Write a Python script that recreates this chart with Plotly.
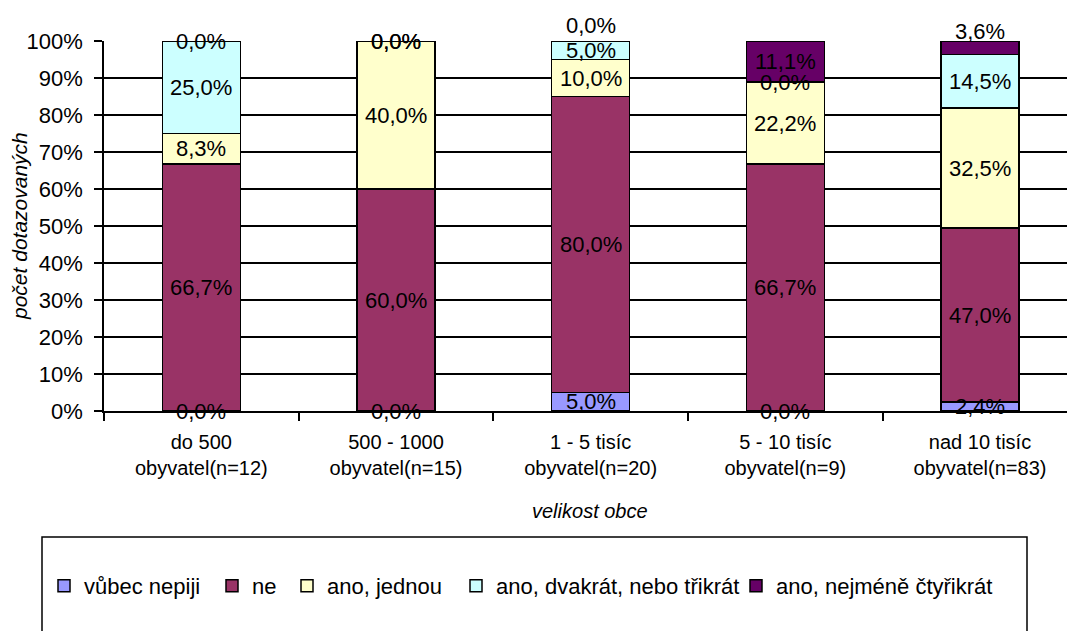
import plotly.graph_objects as go

# Categories (municipality size) and response shares in percent
categories = [
    "do 500<br>obyvatel(n=12)",
    "500 - 1000<br>obyvatel(n=15)",
    "1 - 5 tisíc<br>obyvatel(n=20)",
    "5 - 10 tisíc<br>obyvatel(n=9)",
    "nad 10 tisíc<br>obyvatel(n=83)",
]
series_names = [
    "vůbec nepiji",
    "ne",
    "ano, jednou",
    "ano, dvakrát, nebo třikrát",
    "ano, nejméně čtyřikrát",
]
vubec_nepiji = [0.0, 0.0, 5.0, 0.0, 2.4]
ne = [66.7, 60.0, 80.0, 66.7, 47.0]
ano_jednou = [8.3, 40.0, 10.0, 22.2, 32.5]
ano_dvakrat_trikrat = [25.0, 0.0, 5.0, 0.0, 14.5]
ano_nejmene_ctyrikrat = [0.0, 0.0, 0.0, 11.1, 3.6]
y_ticks = [0, 10, 20, 30, 40, 50, 60, 70, 80, 90, 100]

series_values = [vubec_nepiji, ne, ano_jednou, ano_dvakrat_trikrat, ano_nejmene_ctyrikrat]
colors = ["#9999FF", "#993366", "#FFFFCC", "#CCFFFF", "#660066"]

FONT = "Liberation Sans, Arial, sans-serif"
FS = 21

W, H = 1067, 631
ML, MR, MT, MB = 104, 0, 41, 220
plot_w = W - ML - MR
plot_h = H - MT - MB


def px_x(px):
    return (px - ML) / plot_w


def px_y(py):
    return (H - MB - py) / plot_h


# one legend box per entry so each entry sits at its own spot in the frame
legend_left_px = [44, 212, 287, 456, 736]
legend_ids = ["legend", "legend2", "legend3", "legend4", "legend5"]

fig = go.Figure()
for name, vals, col, lid in zip(series_names, series_values, colors, legend_ids):
    fig.add_trace(go.Bar(
        name=name,
        x=categories,
        y=vals,
        width=0.4,
        marker=dict(color=col, line=dict(color="black", width=1.5)),
        hoverinfo="skip",
        legend=lid,
    ))

# small upward nudges (px) for labels that would sit on top of neighbours
label_nudge = {(4, 2): 16, (4, 4): 16}

annotations = []
for ci, cat in enumerate(categories):
    base = 0.0
    for si, vals in enumerate(series_values):
        v = vals[ci]
        annotations.append(dict(
            x=cat, y=base + v / 2, xref="x", yref="y",
            text=f"{v:.1f}".replace(".", ",") + "%",
            showarrow=False,
            font=dict(family=FONT, size=22, color="black"),
            yshift=label_nudge.get((si, ci), 0),
        ))
        base += v

annotations.append(dict(
    text="<i>velikost obce</i>", x=px_x(590), y=px_y(511), xref="paper", yref="paper",
    xanchor="center", yanchor="middle",
    showarrow=False, font=dict(family=FONT, size=20, color="black"),
))
annotations.append(dict(
    text="<i>počet dotazovaných</i>", x=px_x(19), y=px_y(226), xref="paper", yref="paper",
    xanchor="center", yanchor="middle",
    showarrow=False, textangle=-90, font=dict(family=FONT, size=21, color="black"),
))

legend_layout = {}
for lid, lx in zip(legend_ids, legend_left_px):
    legend_layout[lid] = dict(
        orientation="h",
        x=px_x(lx), y=px_y(586), xanchor="left", yanchor="middle",
        font=dict(family=FONT, size=22, color="black"),
        itemwidth=30,
        bgcolor="rgba(0,0,0,0)",
        borderwidth=0,
    )

fig.update_layout(
    barmode="stack",
    width=W, height=H,
    margin=dict(l=ML, r=MR, t=MT, b=MB, autoexpand=False),
    paper_bgcolor="white", plot_bgcolor="white",
    font=dict(family=FONT, size=FS, color="black"),
    annotations=annotations,
    showlegend=True,
    shapes=[dict(
        type="rect", xref="paper", yref="paper",
        x0=px_x(42), x1=px_x(1027), y0=px_y(632), y1=px_y(537),
        line=dict(color="black", width=1.5), fillcolor="rgba(0,0,0,0)", layer="below",
    )],
    **legend_layout,
)

fig.update_xaxes(
    range=[-0.5, 4.447],
    tickson="boundaries",
    ticks="outside", ticklen=8, tickwidth=1.5, tickcolor="black",
    showline=True, linecolor="black", linewidth=1.5,
    showgrid=False,
    ticklabelstandoff=12,
    tickfont=dict(family=FONT, size=20, color="black"),
    automargin=False,
)
fig.update_yaxes(
    range=[0, 100],
    tickvals=y_ticks,
    ticktext=[f"{t}%" for t in y_ticks],
    ticks="outside", ticklen=8, tickwidth=1.5, tickcolor="black",
    showline=True, linecolor="black", linewidth=1.5,
    showgrid=True, gridcolor="black", gridwidth=1.5,
    zeroline=False,
    ticklabelstandoff=7,
    tickfont=dict(family=FONT, size=22, color="black"),
    automargin=False,
)

fig.write_html("out.html")
